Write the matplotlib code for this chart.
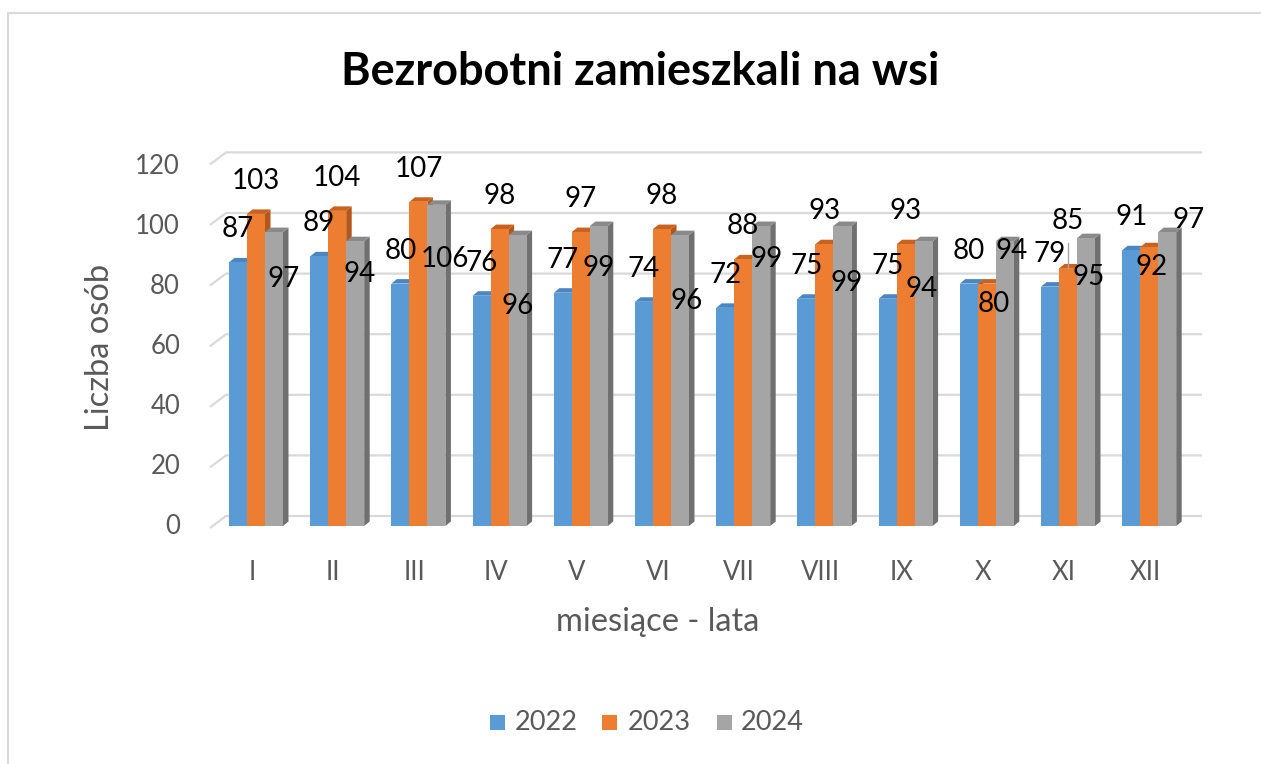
import matplotlib
matplotlib.use("Agg")
import matplotlib.pyplot as plt
from matplotlib.patches import Polygon, Rectangle
import numpy as np

# ---------------- data ----------------
months = ["I", "II", "III", "IV", "V", "VI", "VII", "VIII", "IX", "X", "XI", "XII"]
years = ["2022", "2023", "2024"]
v2022 = [87, 89, 80, 76, 77, 74, 72, 75, 75, 80, 79, 91]
v2023 = [103, 104, 107, 98, 97, 98, 88, 93, 93, 80, 85, 92]
v2024 = [97, 94, 106, 96, 99, 96, 99, 99, 94, 94, 95, 97]
yticks = [0, 20, 40, 60, 80, 100, 120]

title = "Bezrobotni zamieszkali na wsi"
ylabel = "Liczba osób"
xlabel = "miesiące - lata"

# ---------------- layout / style ----------------
FONT = ["Lato", "DejaVu Sans"]
plt.rcParams["font.family"] = FONT
colors = ["#5B9BD5", "#ED7D31", "#A5A5A5"]
tops = ["#4A86C2", "#C9621E", "#8A8A8A"]
sides = ["#3E73A8", "#B5561A", "#707070"]
TXT = "#595959"

# label placement (offsets in pixels from the front-top centre of each bar: dx, dy up)
lab_dx = [[0] * 12,
          [0, 0, 0, 0, 0, 0, 0, 0, 0, 7, 0, 2],
          [10, 4, 8, 0, 0, 7, 5, 4, -2, 7, 3, 21]]
lab_dy = [[34] * 12,
          [34, 34, 34, 34, 34, 34, 34, 34, 34, -19, 48, -19],
          [-46, -32, -53, -70, -41, -65, -32, -56, -47, -9, -38, 13]]

W, H = 1261, 764
fig = plt.figure(figsize=(W / 100, H / 100), dpi=100)
fig.patch.set_facecolor("white")

# pixel mapping of data coordinates
X0, SX = 256.0, 81.2     # category 0 centre in px, px per category
Y0, SY = 526.0, 3.03     # value 0 in px (from top), px per unit
xlim = (-1.0, 12.0)
ylim = (-12.0, 130.0)
pl = X0 + SX * xlim[0]
pr = X0 + SX * xlim[1]
pb = Y0 - SY * ylim[0]
pt = Y0 - SY * ylim[1]
ax = fig.add_axes([pl / W, 1 - pb / H, (pr - pl) / W, (pb - pt) / H])
ax.set_xlim(*xlim)
ax.set_ylim(*ylim)
ax.axis("off")

bw = 18.0 / SX          # bar width in category units
ddx = 5.5 / SX          # 3D depth (x)
ddy = 4.5 / SY          # 3D depth (y)

# gridlines on the back wall with floor stub
back_off = 10.0 / SY
stub_drop = 12.0 / SY
gx0 = (210 - X0) / SX
gx1 = (226 - X0) / SX
gx2 = (1202 - X0) / SX
for t in yticks:
    yb = t + back_off
    ax.plot([gx0, gx1, gx2], [yb - stub_drop, yb, yb], color="#D9D9D9",
            lw=1.6, zorder=1, solid_capstyle="butt")
    ax.text((180 - X0) / SX, (3.0 * t - 1.0) / SY, str(t), ha="right", va="center",
            fontsize=18.5, color=TXT)

# bars (front faces via ax.bar, 3D top/side faces as polygons)
series = [v2022, v2023, v2024]
x = np.arange(len(months))
for s, vals in enumerate(series):
    xs = x + (s - 1) * bw
    z = 10 + s * 3
    for xi, v in zip(xs, vals):
        xl, xr = xi - bw / 2, xi + bw / 2
        ax.add_patch(Polygon([(xr, 0), (xr + ddx, ddy), (xr + ddx, v + ddy), (xr, v)],
                             closed=True, fc=sides[s], ec="none", zorder=z))
        ax.add_patch(Polygon([(xl, v), (xr, v), (xr + ddx, v + ddy), (xl + ddx, v + ddy)],
                             closed=True, fc=tops[s], ec="none", zorder=z + 1))
    ax.bar(xs, vals, width=bw, color=colors[s], zorder=z + 2, linewidth=0)

# data labels
for s, vals in enumerate(series):
    xs = x + (s - 1) * bw
    for i, (xi, v) in enumerate(zip(xs, vals)):
        ax.annotate(str(v), (xi, v), xytext=(lab_dx[s][i] * 0.72, (lab_dy[s][i] - 9) * 0.72),
                    textcoords="offset points", ha="center", va="baseline",
                    fontsize=20, color="black", zorder=30)

# leader line for the moved 2023 label in XI
xi = x[10]
ax.plot([xi, xi], [v2023[10], v2023[10] + 25 / SY], color="#A6A6A6", lw=1, zorder=29)

# category labels
for i, m in enumerate(months):
    ax.text(i - 0.05, (Y0 - 572) / SY, m, ha="center", va="center", fontsize=18.5, color=TXT)

# titles
fig.text(640 / W, 1 - 85 / H, title, ha="center", va="baseline", fontsize=32.5,
         fontweight="bold", color="black")
fig.text(100 / W, 1 - 347 / H, ylabel, ha="center", va="center", rotation=90,
         fontsize=23.5, color=TXT)
fig.text(658 / W, 1 - 622 / H, xlabel, ha="center", va="center", fontsize=23.5, color=TXT)

# legend
sq_x = [490, 602, 717]
tx_x = [515, 628, 741]
for s, yr in enumerate(years):
    fig.patches.append(Rectangle((sq_x[s] / W, 1 - 730 / H), 15 / W, 15 / H,
                                 transform=fig.transFigure, fc=colors[s], ec="none"))
    fig.text(tx_x[s] / W, 1 - 722 / H, yr, ha="left", va="center", fontsize=19.5, color=TXT)

# chart frame
fig.patches.append(Rectangle((8 / W, -0.1), 1.2, 1 - 13 / H + 0.1, transform=fig.transFigure,
                             fc="none", ec="#D9D9D9", lw=1.5))

fig.savefig("out.png", dpi=100)
